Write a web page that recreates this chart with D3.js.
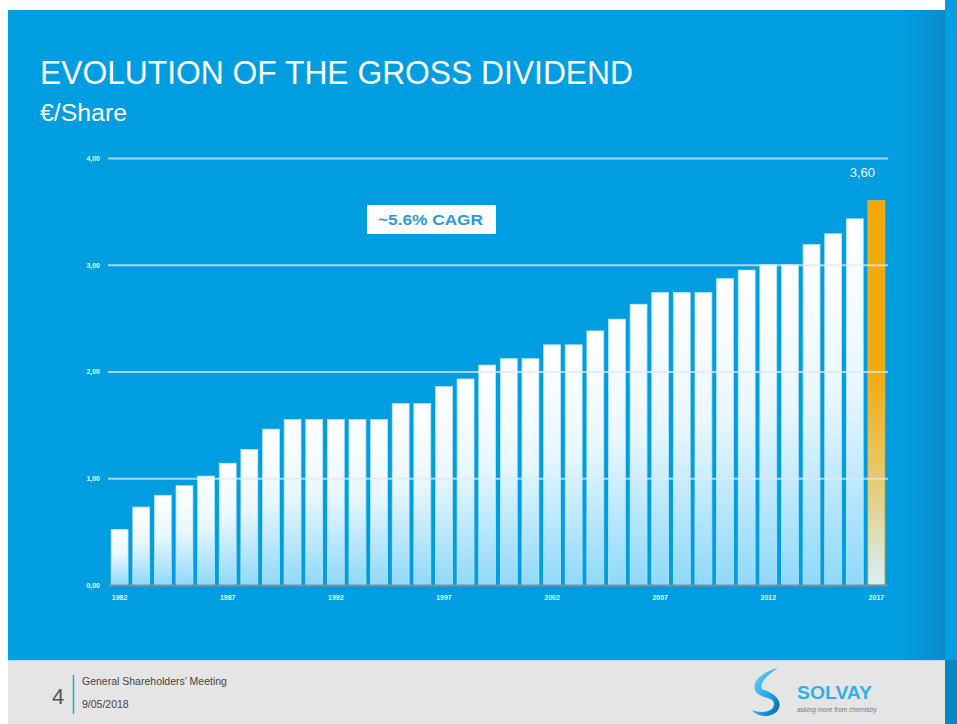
<!DOCTYPE html>
<html>
<head>
<meta charset="utf-8">
<script src="https://cdn.jsdelivr.net/npm/d3@7"></script>
<style>
  html, body { margin: 0; padding: 0; background: #fff; }
  svg { display: block; font-family: 'Liberation Sans', Arial, sans-serif; }
</style>
</head>
<body>
<div id="chart"></div>
<script>
// ---
// Data
// ---
const years = d3.range(1982, 2018).map(String)
const dividends = [
  0.52, 0.73, 0.84, 0.93, 1.02, 1.14, 1.27, 1.46, 1.55, 1.55,
  1.55, 1.55, 1.55, 1.70, 1.70, 1.86, 1.93, 2.06, 2.12, 2.12,
  2.25, 2.25, 2.38, 2.49, 2.63, 2.74, 2.74, 2.74, 2.87, 2.95,
  3.00, 3.00, 3.19, 3.29, 3.43, 3.60
]
const yTicks = [0, 1, 2, 3, 4]
const xTickYears = ['1982', '1987', '1992', '1997', '2002', '2007', '2012', '2017']
const lastLabel = '3,60'
const cagrLabel = '~5.6% CAGR'

const W = 957
const H = 724
const fmt = v => d3.format('.2f')(v).replace('.', ',')

const svg = d3.select('#chart').append('svg')
    .attr('width', W)
    .attr('height', H)

const defs = svg.append('defs')

const barGrad = defs.append('linearGradient')
    .attr('id', 'barGrad').attr('x1', 0).attr('y1', 0).attr('x2', 0).attr('y2', 1)
barGrad.append('stop').attr('offset', '0%').attr('stop-color', '#ffffff')
barGrad.append('stop').attr('offset', '45%').attr('stop-color', '#eaf7fe')
barGrad.append('stop').attr('offset', '100%').attr('stop-color', '#8fd9fa')

const lastGrad = defs.append('linearGradient')
    .attr('id', 'lastGrad').attr('x1', 0).attr('y1', 0).attr('x2', 0).attr('y2', 1)
lastGrad.append('stop').attr('offset', '0%').attr('stop-color', '#f6a800')
lastGrad.append('stop').attr('offset', '45%').attr('stop-color', '#f4aa0c')
lastGrad.append('stop').attr('offset', '75%').attr('stop-color', '#e6cd7a')
lastGrad.append('stop').attr('offset', '100%').attr('stop-color', '#d6f1fb')

const edgeGrad = defs.append('linearGradient')
    .attr('id', 'edgeGrad').attr('x1', 0).attr('y1', 0).attr('x2', 1).attr('y2', 0)
edgeGrad.append('stop').attr('offset', '0%').attr('stop-color', '#009ee0')
edgeGrad.append('stop').attr('offset', '100%').attr('stop-color', '#0a8cc9')

const logoGrad = defs.append('linearGradient')
    .attr('id', 'logoGrad').attr('x1', 0).attr('y1', 0).attr('x2', 1).attr('y2', 1)
logoGrad.append('stop').attr('offset', '0%').attr('stop-color', '#7fd3f7')
logoGrad.append('stop').attr('offset', '60%').attr('stop-color', '#1aa6e6')
logoGrad.append('stop').attr('offset', '100%').attr('stop-color', '#0a5fa8')

// ---
// Slide background
// ---
svg.append('rect').attr('x', 8).attr('y', 10).attr('width', 937).attr('height', 650).attr('fill', '#009ee0')
svg.append('rect').attr('x', 900).attr('y', 10).attr('width', 45).attr('height', 650).attr('fill', 'url(#edgeGrad)')
svg.append('rect').attr('x', 945).attr('y', 0).attr('width', 12).attr('height', 660).attr('fill', '#019fe1')
svg.append('rect').attr('x', 945).attr('y', 660).attr('width', 12).attr('height', 64).attr('fill', '#0589c6')
svg.append('rect').attr('x', 8).attr('y', 660).attr('width', 937).attr('height', 64).attr('fill', '#e5e5e5')
svg.append('line').attr('x1', 8).attr('x2', 945).attr('y1', 660.5).attr('y2', 660.5)
    .attr('stroke', '#b9dcef').attr('stroke-width', 1)

// Titles (narrow look: squeeze glyphs into the measured width)
svg.append('text')
    .attr('x', 40).attr('y', 84)
    .attr('fill', '#fff')
    .attr('font-family', "'Liberation Sans Narrow', 'Arial Narrow', sans-serif")
    .attr('font-size', 33)
    .attr('textLength', 593).attr('lengthAdjust', 'spacingAndGlyphs')
    .text('EVOLUTION  OF THE  GROSS DIVIDEND')

svg.append('text')
    .attr('x', 40).attr('y', 121)
    .attr('fill', '#fff')
    .attr('font-family', "'Liberation Sans Narrow', 'Arial Narrow', sans-serif")
    .attr('font-size', 23)
    .attr('textLength', 87).attr('lengthAdjust', 'spacingAndGlyphs')
    .text('€/Share')

// ---
// Chart
// ---
const xScale = d3.scaleBand()
    .domain(years)
    .range([109, 887])
    .paddingInner(0.22)
    .paddingOuter(0.1)

const yScale = d3.scaleLinear()
    .domain([0, 4])
    .range([585, 158])

const plot = svg.append('g')

plot.selectAll('rect.bar')
    .data(dividends)
  .enter()
    .append('rect')
    .attr('class', 'bar')
    .attr('x', (d, i) => xScale(years[i]))
    .attr('y', d => yScale(d))
    .attr('width', xScale.bandwidth())
    .attr('height', d => yScale(0) - yScale(d))
    .attr('fill', (d, i) => i === dividends.length - 1 ? 'url(#lastGrad)' : 'url(#barGrad)')
    .attr('stroke', (d, i) => i === dividends.length - 1 ? '#e7b94a' : '#b8e6fa')
    .attr('stroke-width', 0.8)

// Grid lines drawn over the bars, like the original
const yAxis = d3.axisLeft(yScale)
    .tickValues(yTicks)
    .tickSize(-(888 - 108))
    .tickPadding(8)
    .tickFormat(fmt)

const gy = svg.append('g')
    .attr('transform', 'translate(108,0)')
    .call(yAxis)
gy.select('.domain').remove()
gy.selectAll('.tick line')
    .attr('stroke', '#dde9f1')
    .attr('stroke-opacity', d => d === 0 ? 0 : 0.75)
    .attr('stroke-width', 2)
gy.selectAll('.tick text')
    .attr('fill', '#eaf6fd')
    .attr('font-size', 7)
    .attr('font-weight', 'bold')

// Baseline
svg.append('line')
    .attr('x1', 108).attr('x2', 888)
    .attr('y1', yScale(0) + 0.5).attr('y2', yScale(0) + 0.5)
    .attr('stroke', '#7b8e99').attr('stroke-width', 2)

const xAxis = d3.axisBottom(xScale)
    .tickValues(xTickYears)
    .tickSize(0)
    .tickPadding(10)

const gx = svg.append('g')
    .attr('transform', `translate(0,${yScale(0)})`)
    .call(xAxis)
gx.select('.domain').remove()
gx.selectAll('.tick text')
    .attr('fill', '#eaf6fd')
    .attr('font-size', 7)
    .attr('font-weight', 'bold')

// Value label on the last bar
const lastYear = years[years.length - 1]
svg.append('text')
    .attr('x', xScale(lastYear) + xScale.bandwidth() / 2 - 14)
    .attr('y', yScale(dividends[dividends.length - 1]) - 24)
    .attr('text-anchor', 'middle')
    .attr('fill', '#f2f9fd')
    .attr('font-size', 13)
    .text(lastLabel)

// CAGR box
svg.append('rect')
    .attr('x', 367).attr('y', 205).attr('width', 129).attr('height', 29)
    .attr('fill', '#fff')
svg.append('text')
    .attr('x', 378).attr('y', 225)
    .attr('fill', '#2b9bdc')
    .attr('font-size', 14)
    .attr('font-weight', 'bold')
    .attr('textLength', 105).attr('lengthAdjust', 'spacingAndGlyphs')
    .text(cagrLabel)

// ---
// Footer
// ---
svg.append('text')
    .attr('x', 52).attr('y', 704)
    .attr('fill', '#555')
    .attr('font-size', 22)
    .text('4')
svg.append('line')
    .attr('x1', 73.5).attr('x2', 73.5).attr('y1', 675).attr('y2', 714)
    .attr('stroke', '#1ea5e3').attr('stroke-width', 1.5)
svg.append('text')
    .attr('x', 82).attr('y', 685)
    .attr('fill', '#444')
    .attr('font-size', 10.5)
    .text('General Shareholders’ Meeting')
svg.append('text')
    .attr('x', 82).attr('y', 708)
    .attr('fill', '#444')
    .attr('font-size', 10.5)
    .text('9/05/2018')

// Logo
const logo = svg.append('g').attr('transform', 'translate(748,666)')
logo.append('path')
    .attr('d', 'M30,2 C14,6 2,16 8,26 C13,33 26,30 26,38 C26,46 14,48 4,44 C10,52 24,52 30,44 C36,34 24,26 16,24 C10,22 14,12 30,2 Z')
    .attr('fill', 'url(#logoGrad)')
svg.append('text')
    .attr('x', 797).attr('y', 699)
    .attr('fill', '#2fb0ea')
    .attr('font-size', 19)
    .attr('font-weight', 'bold')
    .attr('textLength', 75).attr('lengthAdjust', 'spacingAndGlyphs')
    .text('SOLVAY')
svg.append('text')
    .attr('x', 797).attr('y', 712)
    .attr('fill', '#777')
    .attr('font-size', 6.5)
    .attr('font-style', 'italic')
    .text('asking more from chemistry')
</script>
</body>
</html>
